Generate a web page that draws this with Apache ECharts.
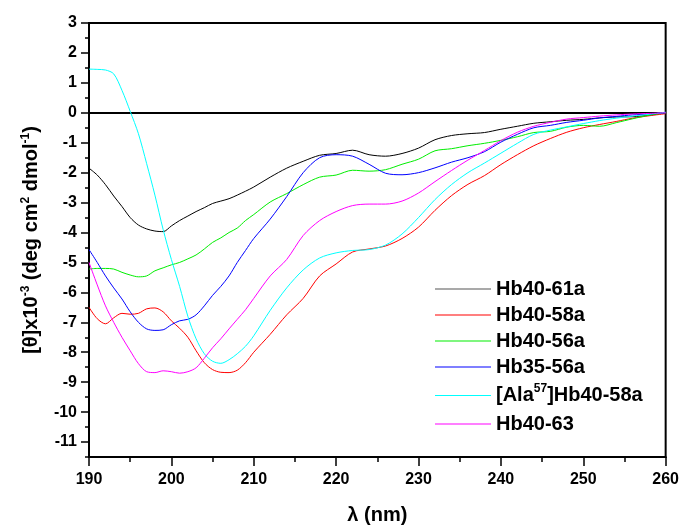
<!DOCTYPE html>
<html>
<head>
<meta charset="utf-8">
<script src="https://cdn.jsdelivr.net/npm/echarts@6/dist/echarts.min.js"></script>
<style>
html,body{margin:0;padding:0;background:#fff;}
#c{width:682px;height:530px;}
</style>
</head>
<body>
<div id="c"></div>
<script>
// Wavelengths (nm)
const wavelengths = [190,191,192,193,194,195,196,197,198,199,200,201,202,203,204,205,206,207,208,209,210,
  212,214,216,218,220,222,224,226,228,230,232,234,236,238,240,242,244,246,248,250,252,254,256,258,260];

const seriesNames = ['Hb40-61a','Hb40-58a','Hb40-56a','Hb35-56a','[Ala57]Hb40-58a','Hb40-63'];

const hb40_61a = [-1.85,-2.08,-2.4,-2.78,-3.13,-3.5,-3.75,-3.88,-3.95,-3.97,-3.78,-3.6,-3.45,-3.3,-3.17,-3.03,-2.95,-2.87,-2.75,-2.62,-2.48,
  -2.15,-1.85,-1.62,-1.42,-1.36,-1.25,-1.4,-1.45,-1.36,-1.18,-0.9,-0.76,-0.7,-0.66,-0.55,-0.45,-0.35,-0.3,-0.25,-0.22,-0.17,-0.14,-0.13,-0.08,0];

const hb40_58a = [-6.5,-6.88,-7.05,-6.85,-6.7,-6.73,-6.7,-6.55,-6.52,-6.65,-6.95,-7.2,-7.5,-7.95,-8.35,-8.58,-8.67,-8.68,-8.6,-8.35,-8.0,
  -7.4,-6.75,-6.2,-5.45,-5.05,-4.65,-4.55,-4.45,-4.2,-3.82,-3.26,-2.77,-2.39,-2.1,-1.73,-1.4,-1.1,-0.86,-0.65,-0.5,-0.39,-0.29,-0.18,-0.1,-0.03];

const hb40_56a = [-5.22,-5.2,-5.2,-5.22,-5.33,-5.42,-5.48,-5.45,-5.28,-5.18,-5.08,-5.0,-4.88,-4.75,-4.55,-4.33,-4.18,-4.0,-3.85,-3.6,-3.4,
  -2.98,-2.7,-2.4,-2.15,-2.08,-1.92,-1.95,-1.9,-1.72,-1.55,-1.27,-1.2,-1.1,-1.02,-0.92,-0.8,-0.66,-0.62,-0.48,-0.42,-0.45,-0.33,-0.2,-0.08,0];

const hb35_56a = [-4.57,-5.0,-5.45,-5.85,-6.22,-6.65,-7.0,-7.22,-7.27,-7.25,-7.08,-6.95,-6.9,-6.75,-6.45,-6.1,-5.8,-5.45,-5.0,-4.6,-4.2,
  -3.55,-2.8,-2.0,-1.5,-1.4,-1.45,-1.72,-2.02,-2.07,-2.0,-1.84,-1.65,-1.5,-1.3,-0.98,-0.72,-0.5,-0.42,-0.32,-0.25,-0.17,-0.12,-0.07,-0.04,0];

const ala57_hb40_58a = [1.46,1.45,1.43,1.3,0.75,0.05,-0.7,-1.7,-2.75,-3.9,-4.9,-5.8,-6.8,-7.55,-8.05,-8.3,-8.37,-8.25,-8.05,-7.8,-7.45,
  -6.6,-5.85,-5.25,-4.85,-4.68,-4.6,-4.57,-4.42,-4.05,-3.5,-2.9,-2.4,-2.0,-1.68,-1.35,-1.02,-0.72,-0.58,-0.47,-0.36,-0.26,-0.18,-0.11,-0.05,0.02];

const hb40_63 = [-5.0,-5.75,-6.45,-7.0,-7.5,-7.95,-8.38,-8.65,-8.68,-8.62,-8.65,-8.7,-8.65,-8.52,-8.2,-7.85,-7.55,-7.22,-6.9,-6.58,-6.2,
  -5.45,-4.9,-4.1,-3.6,-3.3,-3.1,-3.05,-3.05,-2.95,-2.68,-2.3,-1.93,-1.58,-1.26,-0.93,-0.65,-0.45,-0.32,-0.21,-0.16,-0.11,-0.07,-0.04,-0.02,0];

const allValues = [hb40_61a, hb40_58a, hb40_56a, hb35_56a, ala57_hb40_58a, hb40_63];
const colors = ['#000000','#ff0000','#00ee00','#0000ff','#00ffff','#ff00ff'];

const yMajorTicks = [3,2,1,0,-1,-2,-3,-4,-5,-6,-7,-8,-9,-10,-11];
const yMinorTicks = [2.5,1.5,0.5,-0.5,-1.5,-2.5,-3.5,-4.5,-5.5,-6.5,-7.5,-8.5,-9.5,-10.5,-11.5];

const FONT = '"Liberation Sans", Arial, sans-serif';

const series = seriesNames.map((name, i) => {
  const s = {
    name: name,
    type: 'line',
    yAxisIndex: 0,
    data: wavelengths.map((w, j) => [w, allValues[i][j]]),
    showSymbol: false,
    symbol: 'none',
    smooth: 0.3,
    lineStyle: { color: colors[i], width: 1 },
    itemStyle: { color: i === 0 ? '#555555' : colors[i] },
    z: 3
  };
  if (i === 0) {
    s.markLine = {
      silent: true,
      symbol: 'none',
      label: { show: false },
      lineStyle: { color: '#000', type: 'solid', width: 2 },
      data: [{ yAxis: 0 }],
      z: 2
    };
  }
  return s;
});

const legendData = seriesNames.map(n => n === '[Ala57]Hb40-58a'
  ? { name: n, textStyle: { lineHeight: 25 } }
  : { name: n });

const chart = echarts.init(document.getElementById('c'));
chart.setOption({
  animation: false,
  backgroundColor: '#fff',
  grid: {
    left: 89, right: 14, top: 23, bottom: 67,
    show: true, borderColor: '#000', borderWidth: 2, backgroundColor: 'transparent'
  },
  legend: {
    orient: 'vertical',
    left: 430,
    top: 274,
    itemWidth: 56,
    itemHeight: 14,
    itemGap: 6,
    icon: 'path://M0,0 L56,0 L56,1.2 L0,1.2 Z',
    data: legendData,
    formatter: function (n) {
      return n === '[Ala57]Hb40-58a' ? '[Ala{sup|57}]Hb40-58a' : n;
    },
    textStyle: {
      fontFamily: FONT, fontSize: 20, fontWeight: 'bold', color: '#000', lineHeight: 20,
      rich: { sup: { fontFamily: FONT, fontSize: 12, fontWeight: 'bold', lineHeight: 12, verticalAlign: 'top', color: '#000' } }
    }
  },
  xAxis: {
    type: 'value',
    min: 190, max: 260, interval: 10,
    name: 'λ (nm)',
    nameLocation: 'middle',
    nameGap: 48,
    nameTextStyle: { fontFamily: FONT, fontSize: 20, fontWeight: 'bold', color: '#000' },
    axisLine: { show: true, onZero: false, lineStyle: { color: '#000', width: 2 } },
    axisTick: { show: true, length: 9, lineStyle: { color: '#000', width: 1.5 } },
    minorTick: { show: true, splitNumber: 2, length: 5, lineStyle: { color: '#000', width: 1.5 } },
    axisLabel: { fontFamily: FONT, fontSize: 16, fontWeight: 'bold', color: '#000', margin: 15 },
    splitLine: { show: false }
  },
  yAxis: [{
    type: 'value',
    min: -11.5, max: 3,
    position: 'left',
    offset: 0,
    name: '[θ]x10{sup|-3} (deg cm{sup|2} dmol{sup|-1})',
    nameLocation: 'middle',
    nameGap: 47,
    nameTextStyle: {
      fontFamily: FONT, fontSize: 20, fontWeight: 'bold', color: '#000', lineHeight: 22,
      rich: { sup: { fontFamily: FONT, fontSize: 12, fontWeight: 'bold', lineHeight: 12, verticalAlign: 'top', color: '#000' } }
    },
    axisLine: { show: true, onZero: false, lineStyle: { color: '#000', width: 2 } },
    axisTick: { show: true, length: 8, customValues: yMajorTicks, lineStyle: { color: '#000', width: 1.5 } },
    axisLabel: { fontFamily: FONT, fontSize: 16, fontWeight: 'bold', color: '#000', margin: 12, customValues: yMajorTicks },
    splitLine: { show: false }
  }, {
    type: 'value',
    min: -11.5, max: 3,
    position: 'left',
    offset: 0,
    axisLine: { show: false },
    axisTick: { show: true, length: 4, customValues: yMinorTicks, lineStyle: { color: '#000', width: 1.5 } },
    axisLabel: { show: false },
    splitLine: { show: false }
  }],
  series: series
});
</script>
</body>
</html>
